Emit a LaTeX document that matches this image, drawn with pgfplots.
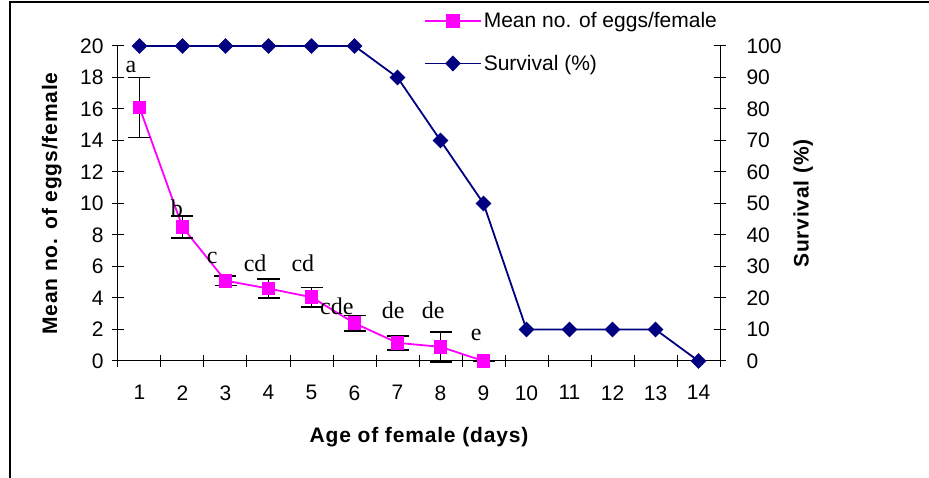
\documentclass[border=0pt]{standalone}
\usepackage{pgfplots}
\pgfplotsset{compat=1.18}
\usepackage{pgfplotstable}
\usepackage{fontspec}
\setmainfont{Liberation Sans}
\newfontfamily\serifl{Liberation Serif}
\newfontfamily\labelfont{Liberation Sans}[LetterSpace=4]
\definecolor{eggc}{RGB}{255,0,255}
\definecolor{survc}{RGB}{0,0,128}

\pgfplotstableread{
x y e
1 16.1 1.9
2 8.5 0.7
3 5.1 0.3
4 4.6 0.6
5 4.05 0.63
6 2.4 0.5
7 1.15 0.44
8 0.9 0.95
9 0 0
}\eggs

\pgfplotstableread{
x y
1 100
2 100
3 100
4 100
5 100
6 100
7 90
8 70
9 50
10 10
11 10
12 10
13 10
14 0
}\surv

\pgfplotstableread{
x y l
0.80 18.67 a
1.87 9.71 b
2.69 6.54 c
3.69 6.22 cd
4.80 6.22 cd
5.59 3.49 cde
6.90 3.24 de
7.83 3.24 de
8.83 1.65 e
}\letters

\begin{document}
\begin{tikzpicture}
\pgfplotsset{
  every axis/.append style={
    scale only axis, width=602pt, height=315pt,
    xmin=0.5, xmax=14.5,
    at={(0pt,0pt)}, anchor=south west, clip=false,
    major tick length=12pt, minor tick length=12pt,
    axis line style={black, line width=1pt},
    every tick/.style={black, line width=1pt},
    /pgf/number format/assume math mode=true,
    tick label style={font=\fontsize{21}{25}\selectfont},
    label style={font=\labelfont\bfseries\fontsize{21}{25}\selectfont},
  },
}
\begin{axis}[
  axis y line*=left, axis x line*=bottom,
  tick align=center,
  ymin=0, ymax=20, ytick={0,2,...,20},
  xtick={1,...,14}, minor xtick={0.5,1.5,...,14.5},
  major x tick style={draw=none},
  xticklabel style={yshift=-15pt},
  yticklabel style={xshift=-5pt},
  xlabel={Age of female (days)},
  ylabel={Mean no. of eggs/female},
  xlabel style={at={(axis description cs:0.5,-0.241)}, anchor=center},
  ylabel style={at={(axis description cs:-0.11,0.5)}, anchor=center},
]
\addplot[eggc, line width=1.8pt, mark=square*, mark size=6pt,
  mark options={eggc, solid},
  error bars/.cd, y dir=both, y explicit,
  error bar style={black, line width=1.5pt},
  error mark options={rotate=90, black, mark size=11pt, line width=1.5pt}]
  table[x=x, y=y, y error=e]{\eggs};
\addplot[draw=none, mark=none, nodes near coords, point meta=explicit symbolic,
  every node near coord/.append style={anchor=center, inner sep=0pt, black,
    font=\serifl\fontsize{24}{28}\selectfont}]
  table[x=x, y=y, meta=l]{\letters};
\end{axis}
\begin{axis}[
  axis y line*=right, axis x line=none,
  tick align=center,
  ymin=0, ymax=100, ytick={0,10,...,100},
  yticklabel style={xshift=17pt},
  ylabel={Survival (\%)},
  ylabel style={at={(axis description cs:1.138,0.5)}, anchor=center, rotate=0},
  legend style={draw=none, fill=none, at={(axis description cs:0.503,1.12)},
    anchor=north west, font=\fontsize{21}{25}\selectfont, row sep=22pt},
  legend cell align=left,
  legend image code/.code={\draw[mark repeat=2, mark phase=2, #1] plot coordinates {(0pt,0pt) (28pt,0pt) (56pt,0pt)};},
]
\addlegendimage{eggc, line width=1.8pt, mark=square*, mark size=6pt, mark options={eggc, solid}}
\addlegendentry{Mean no. of eggs/female}
\addplot[survc, line width=1.8pt, mark=diamond*, mark size=6.7pt,
  mark options={survc, solid, xscale=1.3}]
  table[x=x, y=y]{\surv};
\addlegendentry{Survival (\%)}
\end{axis}
\draw[line width=1.5pt] (-108pt,-140pt) -- (-108pt,359pt) -- (830pt,359pt);
\pgfresetboundingbox
\path[use as bounding box] (-118pt,-117pt) rectangle (811pt,361pt);
\end{tikzpicture}
\end{document}
